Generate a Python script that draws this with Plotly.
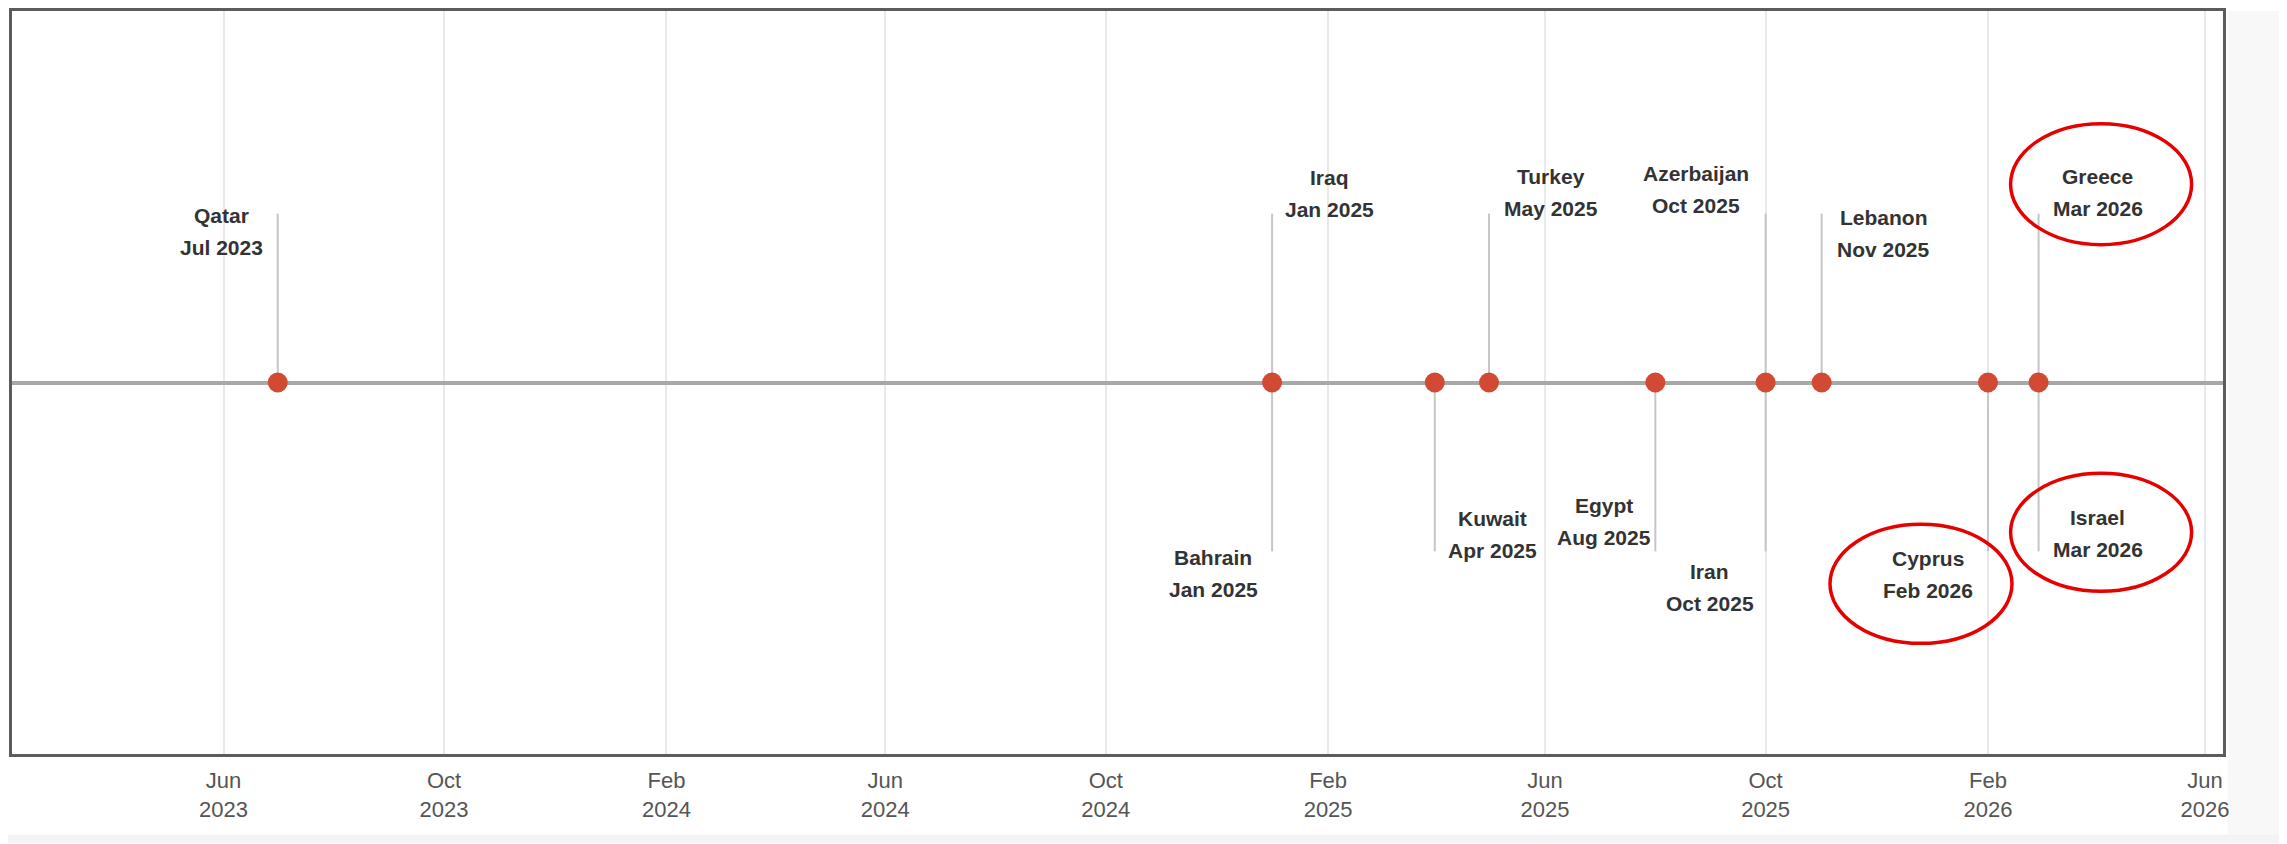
import pandas as pd
import plotly.graph_objects as go

# ---------------- data ----------------
countries = ["Qatar", "Bahrain", "Iraq", "Kuwait", "Turkey", "Egypt",
             "Azerbaijan", "Iran", "Lebanon", "Cyprus", "Greece", "Israel"]
dates = ["2023-07-01", "2025-01-01", "2025-01-01", "2025-04-01", "2025-05-01",
         "2025-08-01", "2025-10-01", "2025-10-01", "2025-11-01", "2026-02-01",
         "2026-03-01", "2026-03-01"]
highlighted = ["Cyprus", "Greece", "Israel"]

tick_vals = ["2023-06-01", "2023-10-01", "2024-02-01", "2024-06-01", "2024-10-01",
             "2025-02-01", "2025-06-01", "2025-10-01", "2026-02-01", "2026-06-01"]
tick_text = ["Jun<br>2023", "Oct<br>2023", "Feb<br>2024", "Jun<br>2024", "Oct<br>2024",
             "Feb<br>2025", "Jun<br>2025", "Oct<br>2025", "Feb<br>2026", "Jun<br>2026"]

# ---------------- layout helpers (placement only) ----------------
side = [1, -1, 1, -1, 1, -1, 1, -1, 1, -1, 1, -1]          # stem up / down
label_dx = [-56, -59, 57, 58, 62, -51, -70, -56, 62, -60, 59, 59]
label_dy = [-18, -22, 20, 17, 21, 30, 24, -36, -20, -23, 21, 18]
line_gap = 16
ellipse_px = {  # x0, x1, y0, y1 in pixels around the stem end
    "Greece": (-28, 153, -31, 90),
    "Israel": (-28, 153, -40, 78),
    "Cyprus": (-158, 24, -92, 27),
}

dts = pd.to_datetime(dates)
date_labels = [d.strftime("%b %Y") for d in dts]

# stems
sx, sy = [], []
for d, s in zip(dates, side):
    sx += [d, d, None]
    sy += [0, s * 1.0, None]

fig = go.Figure()
fig.add_trace(go.Scatter(x=sx, y=sy, mode="lines",
                         line=dict(color="#c6c6c6", width=2),
                         hoverinfo="skip", showlegend=False))
uniq = sorted(set(dates))
fig.add_trace(go.Scatter(x=uniq, y=[0] * len(uniq), mode="markers",
                         marker=dict(size=20, color="#d24a34", line=dict(width=0)),
                         showlegend=False))

lab_font = dict(family="Liberation Sans, Arial", size=21, color="#333333")
for d, s, c, dl, dx, dy in zip(dates, side, countries, date_labels, label_dx, label_dy):
    for txt, off in ((c, line_gap), (dl, -line_gap)):
        fig.add_annotation(x=d, y=s * 1.0, text=f"<b>{txt}</b>", showarrow=False,
                           xanchor="center", yanchor="middle",
                           xshift=dx, yshift=dy + off, font=lab_font)

for c, d, s in zip(countries, dates, side):
    if c in highlighted:
        x0, x1, y0, y1 = ellipse_px[c]
        fig.add_shape(type="circle", xref="x", yref="y",
                      xsizemode="pixel", ysizemode="pixel",
                      xanchor=d, yanchor=s * 1.0,
                      x0=x0, x1=x1, y0=y0, y1=y1,
                      line=dict(color="#e60000", width=3.5))

# light grey strips outside the frame (screenshot background)
fig.add_shape(type="rect", xref="paper", yref="paper", x0=1.002, x1=1.0253,
              y0=-0.1086, y1=1.0, fillcolor="#f8f8f8", line=dict(width=0), layer="below")
fig.add_shape(type="rect", xref="paper", yref="paper", x0=-0.004, x1=1.0253,
              y0=-0.1206, y1=-0.1086, fillcolor="#f3f3f3", line=dict(width=0), layer="below")

fig.update_layout(
    width=2279, height=836,
    margin=dict(l=4, r=64, t=0, b=90),
    paper_bgcolor="white", plot_bgcolor="white",
    showlegend=False,
    xaxis=dict(type="date", range=["2023-02-04", "2026-06-11"],
               tickvals=tick_vals, ticktext=tick_text,
               showgrid=True, gridcolor="#e9e9e9", gridwidth=1.5,
               zeroline=False, showline=True, linecolor="#5c5c5c", linewidth=3,
               mirror=True, ticks="", ticklabelstandoff=5,
               tickfont=dict(family="Liberation Sans, Arial", size=22, color="#555555")),
    yaxis=dict(range=[-2.2, 2.2], showgrid=False, showticklabels=False,
               zeroline=True, zerolinecolor="#a8a8a8", zerolinewidth=4,
               showline=True, linecolor="#5c5c5c", linewidth=3, mirror=True,
               ticks=""),
)

fig.write_html("out.html")
